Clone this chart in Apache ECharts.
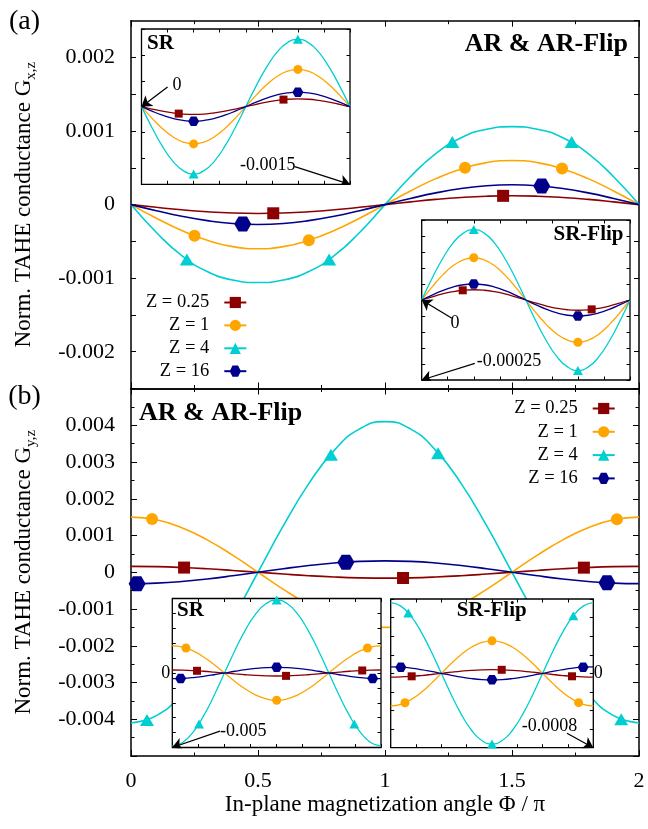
<!DOCTYPE html>
<html><head><meta charset="utf-8">
<script src="https://cdn.jsdelivr.net/npm/echarts@6/dist/echarts.min.js"></script>
<style>html,body{margin:0;padding:0;background:#fff}#c{width:648px;height:829px}</style>
</head><body><div id="c"></div>
<script>
// ---------- data ----------
const phi = [0,0.1,0.2,0.3,0.4,0.5,0.6,0.7,0.8,0.9,1,1.1,1.2,1.3,1.4,1.5,1.6,1.7,1.8,1.9,2];
const zLabels = ['Z = 0.25','Z = 1','Z = 4','Z = 16'];
const xTicks = [0,0.5,1,1.5,2];

// (a) main, G_x,z
const aRed    = [0,-0.000037,-0.000071,-0.000097,-0.000114,-0.00012,-0.000114,-0.000097,-0.000071,-0.000037,0,0.000037,0.000071,0.000097,0.000114,0.00012,0.000114,0.000097,0.000071,0.000037,0];
const aOrange = [0,-0.000185,-0.000353,-0.000485,-0.000571,-0.0006,-0.000571,-0.000485,-0.000353,-0.000185,0,0.000185,0.000353,0.000485,0.000571,0.0006,0.000571,0.000485,0.000353,0.000185,0];
const aCyan   = [0,-0.000379,-0.000694,-0.000909,-0.001025,-0.00106,-0.001025,-0.000909,-0.000694,-0.000379,0,0.000379,0.000694,0.000909,0.001025,0.00106,0.001025,0.000909,0.000694,0.000379,0];
const aBlue   = [0,-0.000083,-0.000159,-0.000218,-0.000257,-0.00027,-0.000257,-0.000218,-0.000159,-0.000083,0,0.000083,0.000159,0.000218,0.000257,0.00027,0.000257,0.000218,0.000159,0.000083,0];
const aRedPts    = [[0.56,-0.000118],[1.465,0.000119]];
const aOrangePts = [[0.25,-0.000424],[0.7,-0.000485],[1.315,0.0005],[1.697,0.00049]];
const aCyanPts   = [[0.22,-0.000745],[0.78,-0.000745],[1.265,0.00085],[1.735,0.00085]];
const aBluePts   = [[0.44,-0.000265],[1.617,0.000252]];

// (b) main, G_y,z
const bRed    = [0.00016,0.000152,0.000129,0.000094,0.000049,0,-0.000049,-0.000094,-0.000129,-0.000152,-0.00016,-0.000152,-0.000129,-0.000094,-0.000049,0,0.000049,0.000094,0.000129,0.000152,0.00016];
const bOrange = [0.0015,0.001427,0.001214,0.000882,0.000464,0,-0.000464,-0.000882,-0.001214,-0.001427,-0.0015,-0.001427,-0.001214,-0.000882,-0.000464,0,0.000464,0.000882,0.001214,0.001427,0.0015];
const bCyan   = [-0.0041,-0.0039,-0.003317,-0.002411,-0.001267,0,0.001267,0.002411,0.003317,0.0039,0.0041,0.0039,0.003317,0.002411,0.001267,0,-0.001267,-0.002411,-0.003317,-0.0039,-0.0041];
const bBlue   = [-0.00031,-0.000295,-0.000251,-0.000182,-0.000096,0,0.000096,0.000182,0.000251,0.000295,0.00031,0.000295,0.000251,0.000182,0.000096,0,-0.000096,-0.000182,-0.000251,-0.000295,-0.00031];
const bRedPts    = [[0.209,0.000127],[1.071,-0.000156],[1.783,0.000125]];
const bOrangePts = [[0.083,0.00145],[1.913,0.001444]];
const bCyanPts   = [[0.063,-0.00402],[0.787,0.0032],[1.209,0.00324],[1.93,-0.004]];
const bBluePts   = [[0.024,-0.00031],[0.846,0.000274],[1.874,-0.000286]];

// (a) inset SR
const srARed    = [0,-0.000046,-0.000088,-0.000121,-0.000143,-0.00015,-0.000143,-0.000121,-0.000088,-0.000046,0,0.000046,0.000088,0.000121,0.000143,0.00015,0.000143,0.000121,0.000088,0.000046,0];
const srAOrange = [0,-0.000222,-0.000423,-0.000582,-0.000685,-0.00072,-0.000685,-0.000582,-0.000423,-0.000222,0,0.000222,0.000423,0.000582,0.000685,0.00072,0.000685,0.000582,0.000423,0.000222,0];
const srACyan   = [0,-0.000402,-0.000764,-0.001052,-0.001236,-0.0013,-0.001236,-0.001052,-0.000764,-0.000402,0,0.000402,0.000764,0.001052,0.001236,0.0013,0.001236,0.001052,0.000764,0.000402,0];
const srABlue   = [0,-0.000087,-0.000165,-0.000227,-0.000266,-0.00028,-0.000266,-0.000227,-0.000165,-0.000087,0,0.000087,0.000165,0.000227,0.000266,0.00028,0.000266,0.000227,0.000165,0.000087,0];
const srARedPts    = [[0.357,-0.000135],[1.362,0.000136]];
const srAOrangePts = [[0.5,-0.00072],[1.5,0.00072]];
const srACyanPts   = [[0.5,-0.0013],[1.5,0.0013]];
const srABluePts   = [[0.5,-0.00028],[1.5,0.00028]];

// (a) inset SR-Flip
const sfARed    = [0,0.0000099,0.0000188,0.0000259,0.0000304,0.000032,0.0000304,0.0000259,0.0000188,0.0000099,0,-0.0000099,-0.0000188,-0.0000259,-0.0000304,-0.000032,-0.0000304,-0.0000259,-0.0000188,-0.0000099,0];
const sfAOrange = [0,0.0000408,0.0000776,0.0001068,0.0001255,0.000132,0.0001255,0.0001068,0.0000776,0.0000408,0,-0.0000408,-0.0000776,-0.0001068,-0.0001255,-0.000132,-0.0001255,-0.0001068,-0.0000776,-0.0000408,0];
const sfACyan   = [0,0.000068,0.000129,0.000178,0.000209,0.00022,0.000209,0.000178,0.000129,0.000068,0,-0.000068,-0.000129,-0.000178,-0.000209,-0.00022,-0.000209,-0.000178,-0.000129,-0.000068,0];
const sfABlue   = [0,0.0000155,0.0000294,0.0000405,0.0000476,0.00005,0.0000476,0.0000405,0.0000294,0.0000155,0,-0.0000155,-0.0000294,-0.0000405,-0.0000476,-0.00005,-0.0000476,-0.0000405,-0.0000294,-0.0000155,0];
const sfARedPts    = [[0.394,0.0000303],[1.632,-0.0000293]];
const sfAOrangePts = [[0.5,0.000132],[1.5,-0.000132]];
const sfACyanPts   = [[0.5,0.00022],[1.5,-0.00022]];
const sfABluePts   = [[0.5,0.00005],[1.5,-0.00005]];

// (b) inset SR
const srBRed    = [0.0002,0.00019,0.000162,0.000118,0.000062,0,-0.000062,-0.000118,-0.000162,-0.00019,-0.0002,-0.00019,-0.000162,-0.000118,-0.000062,0,0.000062,0.000118,0.000162,0.00019,0.0002];
const srBOrange = [0.00183,0.00174,0.00148,0.001076,0.000565,0,-0.000565,-0.001076,-0.00148,-0.00174,-0.00183,-0.00174,-0.00148,-0.001076,-0.000565,0,0.000565,0.001076,0.00148,0.00174,0.00183];
const srBCyan   = [-0.0049,-0.00466,-0.003964,-0.002881,-0.001514,0,0.001514,0.002881,0.003964,0.00466,0.0049,0.00466,0.003964,0.002881,0.001514,0,-0.001514,-0.002881,-0.003964,-0.00466,-0.0049];
const srBBlue   = [-0.00038,-0.000361,-0.000307,-0.000223,-0.000117,0,0.000117,0.000223,0.000307,0.000361,0.00038,0.000361,0.000307,0.000223,0.000117,0,-0.000117,-0.000223,-0.000307,-0.000361,-0.00038];
const srBRedPts    = [[0.237,0.000148],[1.09,-0.000192],[1.82,0.000169]];
const srBOrangePts = [[0.131,0.001678],[1,-0.00183],[1.87,0.00168]];
const srBCyanPts   = [[0.256,-0.003415],[1,0.0049],[1.744,-0.003415]];
const srBBluePts   = [[0.08,-0.000368],[1,0.00038],[1.92,-0.000368]];

// (b) inset SR-Flip
const sfBRed    = [-0.00004,-0.000038,-0.0000324,-0.0000235,-0.0000124,0,0.0000124,0.0000235,0.0000324,0.000038,0.00004,0.000038,0.0000324,0.0000235,0.0000124,0,-0.0000124,-0.0000235,-0.0000324,-0.000038,-0.00004];
const sfBOrange = [-0.00035,-0.000333,-0.000283,-0.000206,-0.000108,0,0.000108,0.000206,0.000283,0.000333,0.00035,0.000333,0.000283,0.000206,0.000108,0,-0.000108,-0.000206,-0.000283,-0.000333,-0.00035];
const sfBCyan   = [0.00076,0.000723,0.000615,0.000447,0.000235,0,-0.000235,-0.000447,-0.000615,-0.000723,-0.00076,-0.000723,-0.000615,-0.000447,-0.000235,0,0.000235,0.000447,0.000615,0.000723,0.00076];
const sfBBlue   = [0.00007,0.0000666,0.0000566,0.0000412,0.0000216,0,-0.0000216,-0.0000412,-0.0000566,-0.0000666,-0.00007,-0.0000666,-0.0000566,-0.0000412,-0.0000216,0,0.0000216,0.0000412,0.0000566,0.0000666,0.00007];
const sfBRedPts    = [[0.207,-0.000032],[1.096,0.0000382],[1.79,-0.0000316]];
const sfBOrangePts = [[0.141,-0.000316],[1,0.00035],[1.855,-0.000315]];
const sfBCyanPts   = [[0.174,0.000649],[1,-0.00076],[1.803,0.000621]];
const sfBBluePts   = [[0.1,0.0000666],[1,-0.00007],[1.9,0.0000666]];

// annotation arrows (inset data coordinates: [from, to])
const arrowsSRA = [[[0.25,0.00038],[0,0]],[[1.47,-0.00116],[2,-0.0015]]];
const arrowsSFA = [[[0.29,-0.000057],[0,0]],[[0.51,-0.000198],[0,-0.00025]]];
const arrowsSRB = [[[0.457,-0.0039],[0,-0.005]]];
const arrowsSFB = [[[1.74,-0.000644],[2,-0.0008]]];

// ---------- style ----------
const FONT = '"Liberation Serif","Times New Roman",serif';
const COLORS = ['#8b0000','#ffa500','#00ced1','#00008b'];
const HEX = 'path://M0,5L3,0L9,0L12,5L9,10L3,10Z';
const SYMS = ['rect','circle','triangle',HEX];
const MAIN_SIZES = [[12,12],[12,12],[14,12],[17,15]];
const INSET_SIZES = [[8,8],[9,9],[10,9],[11,9.5]];

const gridBoxes = [
  {left:131, top:20.7, width:508, height:367.8},
  {left:131, top:388.5, width:508, height:367.5},
  {left:141.5, top:29, width:208.5, height:155.3},
  {left:421.7, top:220, width:208.3, height:160},
  {left:172.3, top:598.5, width:208.7, height:149},
  {left:390.7, top:599, width:202.6, height:148.7}
];
const grids = gridBoxes.map((g,i)=>Object.assign({outerBoundsMode:'none', containLabel:false}, g,
  i<2 ? {show:false} : {show:true, backgroundColor:'#fff', borderColor:'#000', borderWidth:1.3, z:10}));

const TICK = {color:'#000', width:1};
function mainX(grid, pos, labels, extra) {
  return Object.assign({type:'value', gridIndex:grid, position:pos, min:0, max:2, interval:0.5,
    axisLine:{show:true, onZero:false, lineStyle:{color:'#000', width:1.5}},
    axisTick:{show:true, inside:true, length:6, lineStyle:TICK},
    minorTick:{show:true, splitNumber:2, length:3.5, lineStyle:TICK},
    splitLine:{show:false}, minorSplitLine:{show:false},
    axisLabel:{show:labels, fontFamily:FONT, fontSize:22, color:'#000', margin:14}}, extra||{});
}
function yName(sub) {
  return {name:'{m|Norm. TAHE conductance G}{s|' + sub + '}', nameLocation:'middle', nameRotate:90, nameGap:92,
    nameTextStyle:{color:'#000', fontFamily:FONT, fontSize:23,
      rich:{m:{fontFamily:FONT, fontSize:23, color:'#000', lineHeight:30, verticalAlign:'middle'},
            s:{fontFamily:FONT, fontSize:15, color:'#000', lineHeight:14, verticalAlign:'bottom'}}}};
}
function fmtA(v){ const k = Math.round(v*2000); return (k % 2 === 0) ? String(Number(v.toFixed(4))) : ''; }
function mainYA(pos, labels) {
  return Object.assign({type:'value', gridIndex:0, position:pos, min:-0.0025, max:0.0025, interval:0.0005,
    axisLine:{show:true, onZero:false, lineStyle:{color:'#000', width:1.5}},
    axisTick:{show:true, inside:true, length:5, lineStyle:TICK},
    splitLine:{show:false},
    axisLabel:{show:labels, fontFamily:FONT, fontSize:22, color:'#000', margin:16, formatter:fmtA,
      showMinLabel:false, showMaxLabel:false}}, labels ? yName('x,z') : {});
}
function mainYB(pos, labels) {
  return Object.assign({type:'value', gridIndex:1, position:pos, min:-0.005, max:0.005, interval:0.001,
    axisLine:{show:true, onZero:false, lineStyle:{color:'#000', width:1.5}},
    axisTick:{show:true, inside:true, length:6, lineStyle:TICK},
    minorTick:{show:true, splitNumber:2, length:3.5, lineStyle:TICK},
    splitLine:{show:false}, minorSplitLine:{show:false},
    axisLabel:{show:labels, fontFamily:FONT, fontSize:22, color:'#000', margin:16,
      showMinLabel:false, showMaxLabel:false}}, labels ? yName('y,z') : {});
}
function insetAx(grid, pos, min, max, interval) {
  return {type:'value', gridIndex:grid, position:pos, min:min, max:max, interval:interval, z:11,
    axisLine:{show:false, onZero:false}, axisTick:{show:true, inside:true, length:3.5, lineStyle:TICK},
    splitLine:{show:false}, axisLabel:{show:false}};
}

const xAxis = [
  mainX(0,'bottom',false), mainX(0,'top',false),
  mainX(1,'bottom',true,{name:'In-plane magnetization angle \u03A6 / \u03C0', nameLocation:'middle', nameGap:37,
    nameTextStyle:{color:'#000', fontFamily:FONT, fontSize:23}}),
  mainX(1,'top',false)
];
const yAxis = [mainYA('left',true), mainYA('right',false), mainYB('left',true), mainYB('right',false)];
const insetRanges = [[2,0.0015,0.0005],[3,0.00025,0.00005],[4,0.005,0.001],[5,0.0008,0.0002]];
insetRanges.forEach(r=>{
  xAxis.push(insetAx(r[0],'bottom',0,2,0.25), insetAx(r[0],'top',0,2,0.25));
  yAxis.push(insetAx(r[0],'left',-r[1],r[1],r[2]), insetAx(r[0],'right',-r[1],r[1],r[2]));
});

const panels = [
  {x:0, y:0, curves:[aRed,aOrange,aCyan,aBlue], pts:[aRedPts,aOrangePts,aCyanPts,aBluePts], main:true},
  {x:2, y:2, curves:[bRed,bOrange,bCyan,bBlue], pts:[bRedPts,bOrangePts,bCyanPts,bBluePts], main:true},
  {x:4, y:4, curves:[srARed,srAOrange,srACyan,srABlue], pts:[srARedPts,srAOrangePts,srACyanPts,srABluePts], arrows:arrowsSRA},
  {x:6, y:6, curves:[sfARed,sfAOrange,sfACyan,sfABlue], pts:[sfARedPts,sfAOrangePts,sfACyanPts,sfABluePts], arrows:arrowsSFA},
  {x:8, y:8, curves:[srBRed,srBOrange,srBCyan,srBBlue], pts:[srBRedPts,srBOrangePts,srBCyanPts,srBBluePts], arrows:arrowsSRB},
  {x:10, y:10, curves:[sfBRed,sfBOrange,sfBCyan,sfBBlue], pts:[sfBRedPts,sfBOrangePts,sfBCyanPts,sfBBluePts], arrows:arrowsSFB}
];

const series = [];
panels.forEach(p=>{
  const zBase = p.main ? 2 : 12;
  p.curves.forEach((arr,c)=>{
    series.push({type:'line', name:zLabels[c], xAxisIndex:p.x, yAxisIndex:p.y,
      data: phi.map((x,i)=>[x, arr[i]]), smooth:true, symbol:SYMS[c],
      symbolSize:(p.main?MAIN_SIZES:INSET_SIZES)[c], showSymbol:false,
      lineStyle:{color:COLORS[c], width:p.main?1.6:1.3}, itemStyle:{color:COLORS[c]},
      z:zBase, silent:true, animation:false});
  });
  p.pts.forEach((pts,c)=>{
    series.push({type:'scatter', name:zLabels[c], xAxisIndex:p.x, yAxisIndex:p.y, data:pts,
      symbol:SYMS[c], symbolSize:(p.main?MAIN_SIZES:INSET_SIZES)[c], itemStyle:{color:COLORS[c], opacity:1},
      z:zBase+1, silent:true, animation:false});
  });
  if (p.arrows) {
    series.push({type:'lines', coordinateSystem:'cartesian2d', xAxisIndex:p.x, yAxisIndex:p.y,
      data: p.arrows.map(a=>({coords:[a[0],a[1]]})), symbol:['none','arrow'], symbolSize:10,
      lineStyle:{color:'#000', width:1.3, opacity:1, curveness:0}, itemStyle:{color:'#000'},
      z:zBase+2, silent:true, animation:false});
  }
});

function legendAt(left, top, gap) {
  return {data:zLabels, orient:'vertical', left:left, top:top, align:'right', padding:0,
    itemWidth:22, itemHeight:14, itemGap:gap, selectedMode:false,
    formatter:'{t|{name}}',
    textStyle:{fontFamily:FONT, fontSize:18.5, color:'#000',
      rich:{t:{fontFamily:FONT, fontSize:18.5, color:'#000', width:66, align:'right', padding:[0,10,0,0], lineHeight:16}}}};
}

const texts = [
  ['(a)', 24.5, 21.5, 28, false, 'center'],
  ['(b)', 24.5, 397, 28, false, 'center'],
  ['AR & AR-Flip', 628, 44, 26, true, 'right'],
  ['AR & AR-Flip', 139, 413, 26, true, 'left'],
  ['SR', 147, 44, 21, true, 'left'],
  ['SR-Flip', 623.5, 235, 21, true, 'right'],
  ['SR', 177, 611, 21, true, 'left'],
  ['SR-Flip', 491.7, 610.5, 21, true, 'center'],
  ['0', 177, 85, 18, false, 'center'],
  ['-0.0015', 240, 165, 18, false, 'left'],
  ['0', 455, 323, 18, false, 'center'],
  ['-0.00025', 476.7, 361.7, 18, false, 'left'],
  ['0', 165.8, 673.3, 18, false, 'center'],
  ['-0.005', 220, 731.7, 18, false, 'left'],
  ['0', 598.3, 673.3, 18, false, 'center'],
  ['-0.0008', 521.7, 726.7, 18, false, 'left']
];
const graphic = texts.map(t=>({type:'text', x:t[1], y:t[2], z:20, silent:true,
  style:{text:t[0], fill:'#000', font:(t[4]?'bold ':'') + t[3] + 'px ' + FONT, align:t[5], verticalAlign:'middle'}}));

const chart = echarts.init(document.getElementById('c'), null, {renderer:'canvas'});
chart.setOption({
  backgroundColor:'#fff', animation:false,
  grid:grids, xAxis:xAxis, yAxis:yAxis, series:series,
  legend:[legendAt(143.3, 293, 3.9), legendAt(511.7, 399, 4.3)],
  graphic:graphic
});
</script></body></html>
